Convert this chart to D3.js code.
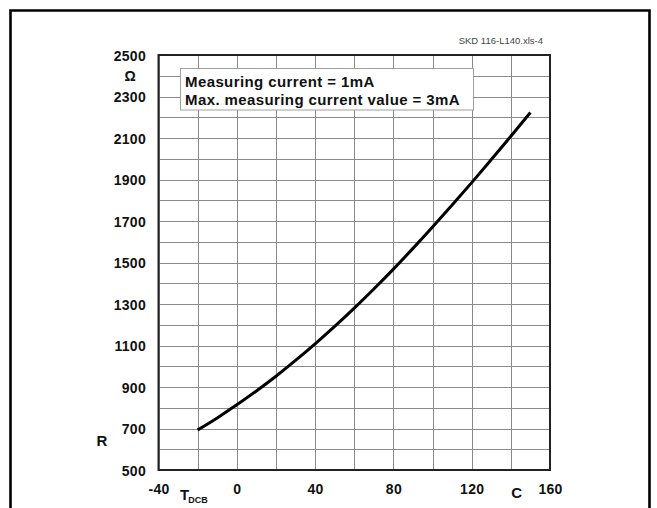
<!DOCTYPE html>
<html>
<head>
<meta charset="utf-8">
<script src="https://cdn.jsdelivr.net/npm/d3@7"></script>
<style>
  html, body { margin: 0; padding: 0; background: #fff; }
  svg { display: block; font-family: Arial, "Liberation Sans", Helvetica, sans-serif; }
</style>
</head>
<body>
<svg id="chart" width="657" height="508"></svg>
<script>
// Resistance of the temperature sensor vs. DCB temperature
const temperatures = [-20, -10, 0, 10, 20, 30, 40, 50, 60, 70, 80, 90, 100, 110, 120, 130, 140, 150];
const resistance   = [693, 751, 814, 881, 952, 1028, 1108, 1192, 1280, 1372, 1468, 1568, 1671, 1777, 1885, 1996, 2108, 2223];

const xTickLabels = [-40, 0, 40, 80, 120, 160];
const yTickLabels = [500, 700, 900, 1100, 1300, 1500, 1700, 1900, 2100, 2300, 2500];
const xGridValues = d3.range(-40, 161, 20);
const yGridValues = d3.range(500, 2501, 100);

const noteLines = ["Measuring current = 1mA", "Max. measuring current value = 3mA"];
const docRef = "SKD 116-L140.xls-4";

const svg = d3.select("#chart");

const x = d3.scaleLinear().domain([-40, 160]).range([158.5, 550]);
const y = d3.scaleLinear().domain([500, 2500]).range([470, 55]);

// outer frame
svg.append("path")
  .attr("d", "M10.5,512 V10.5 H649.5 V512")
  .attr("fill", "none")
  .attr("stroke", "#000")
  .attr("stroke-width", 2.6);

// document reference
svg.append("text")
  .attr("x", 543).attr("y", 44)
  .attr("text-anchor", "end")
  .attr("font-size", 9.5)
  .attr("fill", "#444")
  .text(docRef);

// grid
const grid = svg.append("g");
grid.selectAll(".vg").data(xGridValues).join("line")
  .attr("x1", d => Math.round(x(d)) + 0.5).attr("x2", d => Math.round(x(d)) + 0.5)
  .attr("y1", y(500)).attr("y2", y(2500))
  .attr("stroke", "#8a8a8a").attr("stroke-width", 1);
grid.selectAll(".hg").data(yGridValues).join("line")
  .attr("y1", d => Math.round(y(d)) + 0.5).attr("y2", d => Math.round(y(d)) + 0.5)
  .attr("x1", x(-40)).attr("x2", x(160))
  .attr("stroke", "#8a8a8a").attr("stroke-width", 1);

// note box
const box = svg.append("g");
box.append("rect")
  .attr("x", 180.5).attr("y", 68.5).attr("width", 293).attr("height", 41.5)
  .attr("fill", "#fff").attr("stroke", "#a0a0a0").attr("stroke-width", 1);
box.selectAll("text").data(noteLines).join("text")
  .attr("x", 185).attr("y", (d, i) => 87 + i * 18.3)
  .attr("font-size", 15).attr("font-weight", "bold")
  .attr("letter-spacing", 0.4)
  .attr("fill", "#111")
  .text(d => d);

// plot border
svg.append("rect")
  .attr("x", x(-40)).attr("y", y(2500))
  .attr("width", x(160) - x(-40)).attr("height", y(500) - y(2500))
  .attr("fill", "none").attr("stroke", "#222").attr("stroke-width", 2);

// resistance curve
const line = d3.line()
  .x((d, i) => x(temperatures[i]))
  .y(d => y(d))
  .curve(d3.curveMonotoneX);
svg.append("path")
  .datum(resistance)
  .attr("d", line)
  .attr("fill", "none")
  .attr("stroke", "#000")
  .attr("stroke-width", 3);

// plain integer labels with an ASCII hyphen for negatives
const plain = d => String(d);

// y axis labels
const yAxis = d3.axisLeft(y).tickValues(yTickLabels).tickSize(0).tickPadding(0).tickFormat(plain);
const yg = svg.append("g").attr("transform", "translate(146,0)").call(yAxis);
yg.select(".domain").remove();
yg.selectAll("text")
  .attr("font-size", 14).attr("font-weight", "bold")
  .attr("font-family", "Arial, 'Liberation Sans', sans-serif")
  .attr("letter-spacing", 0.3)
  .attr("fill", "#111")
  .attr("dy", "0.36em");

// x axis labels
const xAxis = d3.axisBottom(x).tickValues(xTickLabels).tickSize(0).tickPadding(0).tickFormat(plain);
const xg = svg.append("g").attr("transform", "translate(0,484)").call(xAxis);
xg.select(".domain").remove();
xg.selectAll("text")
  .attr("font-size", 14).attr("font-weight", "bold")
  .attr("font-family", "Arial, 'Liberation Sans', sans-serif")
  .attr("letter-spacing", 0.3)
  .attr("fill", "#111")
  .attr("dy", "0.72em");

// unit and quantity labels
const lbl = svg.append("g").attr("font-weight", "bold").attr("fill", "#111");
lbl.append("text").attr("x", 130).attr("y", y(2400)).attr("dy", "0.36em")
  .attr("text-anchor", "middle").attr("font-size", 14).text("Ω");
lbl.append("text").attr("x", 102).attr("y", y(640)).attr("dy", "0.36em")
  .attr("text-anchor", "middle").attr("font-size", 15).text("R");
const tl = lbl.append("text").attr("x", 180).attr("y", 500).attr("font-size", 15);
tl.append("tspan").text("T");
tl.append("tspan").attr("font-size", 9).attr("dy", 3).attr("dx", -1).text("DCB");
lbl.append("text").attr("x", x(143)).attr("y", 498)
  .attr("text-anchor", "middle").attr("font-size", 15).text("C");
</script>
</body>
</html>
